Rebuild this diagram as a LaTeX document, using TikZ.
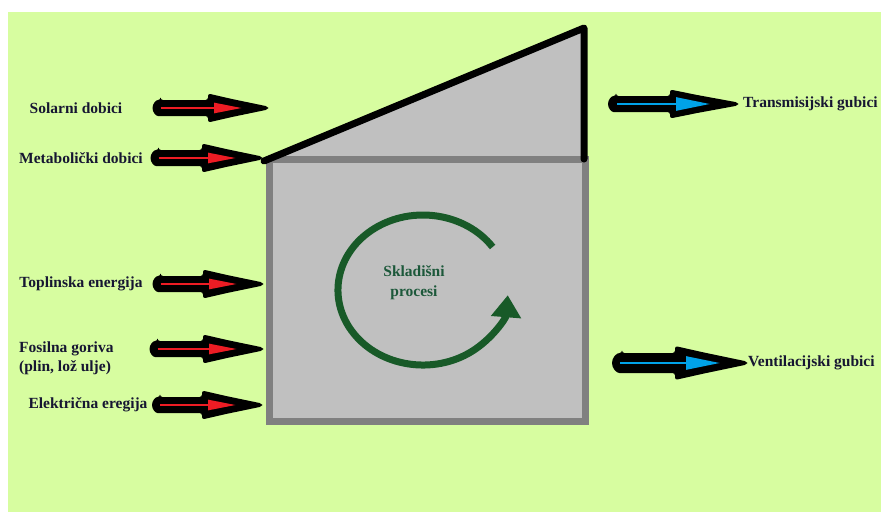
\documentclass[tikz,border=0pt]{standalone}
\usepackage{fontspec}
\setmainfont{Liberation Serif}
\usetikzlibrary{arrows.meta,calc}
\definecolor{bg}{RGB}{215,253,160}
\definecolor{wallfill}{RGB}{192,192,192}
\definecolor{wall}{RGB}{128,128,128}
\definecolor{cyc}{RGB}{24,90,40}
\definecolor{cyctext}{RGB}{28,88,58}
\definecolor{ink}{RGB}{22,22,50}
\definecolor{redin}{RGB}{237,28,36}
\definecolor{bluein}{RGB}{0,162,232}
% #1 start (centre of round tail), #2 tip, #3 head length, #4 body half width, #5 head half width
\newcommand\fatarrow[5]{%
  \fill[black, rounded corners=2.5pt] let \p1=(#1), \p2=(#2) in
    (\x1,\y1+#4) -- (\x2-#3,\y1+#4) -- (\x2-#3,\y1+#5)
    -- (\x2-0.6*#3,\y1+0.62*#5) -- (\x2,\y1+1.5pt) -- (\x2,\y1-1.5pt)
    -- (\x2-0.6*#3,\y1-0.62*#5) -- (\x2-#3,\y1-#5)
    -- (\x2-#3,\y1-#4) -- (\x1,\y1-#4)
    arc[start angle=-90, end angle=-270, radius=#4] -- cycle;}
\begin{document}
\begin{tikzpicture}[x=1pt,y=1pt,
  lbl/.style={font=\bfseries\fontsize{15.5}{19.5}\selectfont, text=ink, inner sep=0pt},
  redline/.style={redin, line width=2.5pt, -{Triangle[length=28pt,width=10pt]}},
  blueline/.style={bluein, line width=2.5pt, -{Triangle[length=34pt,width=13pt]}},
]
\useasboundingbox (0,0) rectangle (881,-512);
\fill[bg] (8,-12) rectangle (881,-512);

% roof
\coordinate (roofL) at (264,-161);
\coordinate (roofT) at (584,-28);
\coordinate (roofR) at (584,-159);
\fill[wallfill] (roofL) -- (roofT) -- (roofR) -- cycle;

% house box
\node[draw=wall, fill=wallfill, line width=7pt, minimum width=316pt, minimum height=262pt,
      inner sep=0pt, outer sep=0pt] (house) at (427,-290) {};
\draw[line width=7pt, line cap=round, line join=round] (roofL) -- (roofT) -- (roofR);

% storage cycle
\coordinate (cs) at (492.6,-247);
\draw[cyc, line width=7pt, -{Triangle[length=22pt,width=29pt]}]
  (cs) arc[start angle=35, end angle=356, x radius=85pt, y radius=75pt];
\node[font=\bfseries\fontsize{15.5}{20}\selectfont, text=cyctext, align=center, inner sep=0pt]
  (store) at (414,-283) {Skladišni\\procesi};

% labels
\node[lbl] (l1) at (76,-108) {Solarni dobici};
\node[lbl] (l2) at (81,-158) {Metabolički dobici};
\node[lbl] (l3) at (81,-284) {Toplinska energija};
\node[lbl, align=left, anchor=west] (l4) at (19,-358.5) {Fosilna goriva\\(plin, lož ulje)};
\node[lbl] (l5) at (88,-405) {Električna eregija};
\node[lbl, anchor=west] (r1) at (743,-104) {Transmisijski gubici};
\node[lbl, anchor=west] (r2) at (748,-363) {Ventilacijski gubici};

% input arrows
\coordinate (a1s) at (160.5,-108); \coordinate (a1e) at (268,-108);
\coordinate (a2s) at (158.5,-158); \coordinate (a2e) at (262,-158);
\coordinate (a3s) at (160.5,-284); \coordinate (a3e) at (263,-284);
\coordinate (a4s) at (157.5,-349); \coordinate (a4e) at (263,-349);
\coordinate (a5s) at (160,-405);   \coordinate (a5e) at (262,-405);
\foreach \i in {1,...,5}{
  \fatarrow{a\i s}{a\i e}{60pt}{8pt}{14.5pt}
  \draw[redline] (a\i s) -- ([xshift=-26pt]a\i e);
}

% output arrows
\coordinate (b1s) at (616,-104); \coordinate (b1e) at (738,-104);
\coordinate (b2s) at (622,-363); \coordinate (b2e) at (747,-363);
\fatarrow{b1s}{b1e}{68pt}{8pt}{14.5pt}
\draw[blueline] ([xshift=1pt]b1s) -- ([xshift=-28pt]b1e);
\fatarrow{b2s}{b2e}{72pt}{10pt}{17pt}
\draw[blueline] ([xshift=-2pt]b2s) -- ([xshift=-27pt]b2e);
\end{tikzpicture}
\end{document}
